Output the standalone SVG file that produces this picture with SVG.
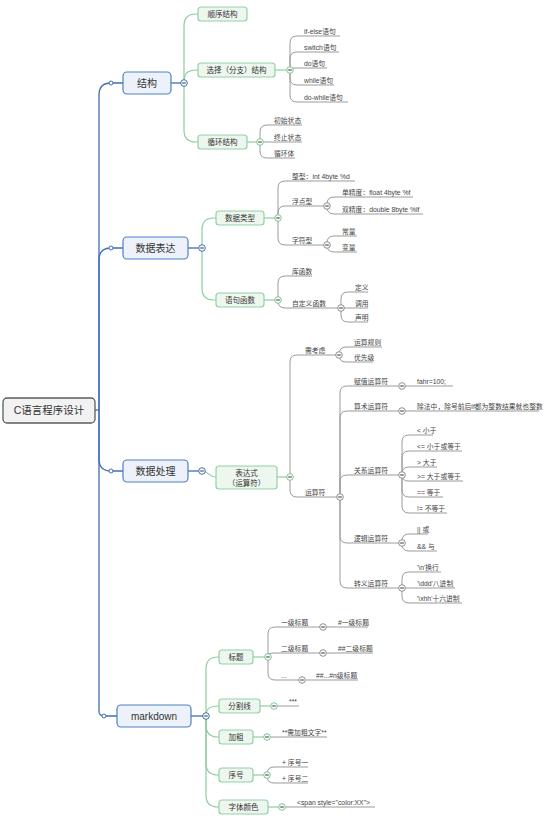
<svg xmlns="http://www.w3.org/2000/svg" width="560" height="822" viewBox="0 0 560 822">
<style>
.lb{fill:none;stroke:#3f6fb4;stroke-width:1.3}
.lg{fill:none;stroke:#8dce9e;stroke-width:1.2}
.ly{fill:none;stroke:#9b9b9b;stroke-width:1}
.bb{fill:#edf2fa;stroke:#4f80c0;stroke-width:1.2}
.bg{fill:#edf6ef;stroke:#93d1a5;stroke-width:1.2}
.rt{fill:#f2f2f2;stroke:#5c5c5c;stroke-width:1.3}
text{font-family:"Liberation Sans","Noto Sans CJK SC",sans-serif;fill:#333}
.t0{font-size:10.5px;text-anchor:middle}
.t1{font-size:10px;text-anchor:middle}
.t2{font-size:7.5px;text-anchor:middle}
.t3{font-size:6.8px;fill:#444}
</style>
<defs>
<g id="cb"><circle r="3.3" fill="#fff" stroke="#3f6fb4" stroke-width="1"/><path d="M-1.8 0H1.8" stroke="#333" stroke-width="1"/></g>
<g id="cg"><circle r="3.3" fill="#fff" stroke="#7cc490" stroke-width="1"/><path d="M-1.8 0H1.8" stroke="#333" stroke-width="1"/></g>
<g id="cy"><circle r="3.3" fill="#fff" stroke="#8f8f8f" stroke-width="1"/><path d="M-1.8 0H1.8" stroke="#333" stroke-width="1"/></g>
<circle id="co" r="2" fill="#fff" stroke="#3f6fb4" stroke-width="1"/>
</defs>
<rect width="560" height="822" fill="#fff"/>

<g id="connectors">
<g class="lb">
<path d="M95 410H99"/>
<path d="M99 410V95Q99 83 111 83H123"/>
<path d="M99 410V260Q99 248 111 248H123"/>
<path d="M99 410V459Q99 471 111 471H123"/>
<path d="M99 410V711Q99 716 104 716H117"/>
<path d="M171 83H184"/>
<path d="M188 248H202"/>
<path d="M188 471H202"/>
<path d="M191 716H206"/>
</g>
<g class="lg">
<path d="M184 83V26Q184 14 196 14H198"/>
<path d="M184 83C184 74 186 70 198 70"/>
<path d="M184 83V130Q184 142 196 142H198"/>
<path d="M275 70H290"/>
<path d="M247 142H260"/>
<path d="M202 248V230Q202 218 214 218H216"/>
<path d="M202 248V288Q202 300 214 300H216"/>
<path d="M264 218H278"/>
<path d="M264 300H278"/>
<path d="M202 471C209 471 208 477 216 477"/>
<path d="M277 477H290"/>
<path d="M206 716V669Q206 657 218 657H219"/>
<path d="M206 716C206 709 209 706 219 706"/>
<path d="M206 716V725Q206 737 218 737H219"/>
<path d="M206 716V763Q206 775 218 775H219"/>
<path d="M206 716V795Q206 807 218 807H219"/>
<path d="M253 657H268"/>
<path d="M260 706H274"/>
<path d="M253 737H267"/>
<path d="M253 775H267"/>
<path d="M268 807H282"/>
</g>
<g class="ly">
<path d="M290 70V43Q290 36 297 36H340"/>
<path d="M290 70V59Q290 52 297 52H339"/>
<path d="M290 70Q290 68 294 68H327"/>
<path d="M290 70V78Q290 85 297 85H334"/>
<path d="M290 70V95Q290 102 297 102H348"/>
<path d="M260 142V132Q260 125 267 125H302"/>
<path d="M260 142H302"/>
<path d="M260 142V151Q260 158 267 158H295"/>
<path d="M278 218V188Q278 181 285 181H355"/>
<path d="M278 218V213Q278 206 285 206H324"/>
<path d="M278 218V238Q278 245 285 245H324"/>
<path d="M327 206V204Q327 197 334 197H413"/>
<path d="M327 206V207Q327 214 334 214H423"/>
<path d="M327 245V243Q327 236 334 236H357"/>
<path d="M327 245Q327 252 334 252H357"/>
<path d="M278 300V283Q278 276 285 276H312"/>
<path d="M278 300V301Q278 308 285 308H338"/>
<path d="M341 308V299Q341 292 348 292H368"/>
<path d="M341 308H368"/>
<path d="M341 308V315Q341 322 348 322H368"/>
<path d="M290 477V362Q290 355 297 355H336"/>
<path d="M290 477V490Q290 497 297 497H337"/>
<path d="M339 355Q339 347 346 347H382"/>
<path d="M339 355Q339 362 346 362H373"/>
<path d="M340 497V393Q340 386 347 386H399"/>
<path d="M340 497V418Q340 411 347 411H399"/>
<path d="M340 497V482Q340 475 347 475H399"/>
<path d="M340 497V536Q340 543 347 543H399"/>
<path d="M340 497V581Q340 588 347 588H399"/>
<path d="M402 386H453"/>
<path d="M402 411H539"/>
<path d="M402 475V442Q402 435 409 435H433"/>
<path d="M402 475V458Q402 451 409 451H462"/>
<path d="M402 475V474Q402 467 409 467H437"/>
<path d="M402 475Q402 481 408 481H463"/>
<path d="M402 475V490Q402 497 409 497H443"/>
<path d="M402 475V506Q402 513 409 513H447"/>
<path d="M402 543V541Q402 534 409 534H428"/>
<path d="M402 543V544Q402 551 409 551H437"/>
<path d="M402 588V579Q402 572 409 572H441"/>
<path d="M402 588H455"/>
<path d="M402 588V596Q402 603 409 603H462"/>
<path d="M268 657V634Q268 627 275 627H320"/>
<path d="M268 657Q268 653 272 653H320"/>
<path d="M268 657V673Q268 680 275 680H299"/>
<path d="M323 627H368"/>
<path d="M323 653H373"/>
<path d="M302 680H358"/>
<path d="M274 706H299"/>
<path d="M267 737H327"/>
<path d="M267 775V774Q267 767 274 767H308"/>
<path d="M267 775V776Q267 783 274 783H308"/>
<path d="M282 807H375"/>
</g>
<use href="#co" x="111" y="83"/>
<use href="#co" x="111" y="248"/>
<use href="#co" x="111" y="471"/>
<use href="#co" x="104" y="716"/>
<use href="#cb" x="184" y="83"/>
<use href="#cb" x="202" y="248"/>
<use href="#cb" x="202" y="471"/>
<use href="#cb" x="206" y="716"/>
<use href="#cg" x="290" y="70"/>
<use href="#cg" x="260" y="142"/>
<use href="#cg" x="278" y="218"/>
<use href="#cg" x="278" y="300"/>
<use href="#cg" x="290" y="477"/>
<use href="#cg" x="268" y="657"/>
<use href="#cg" x="274" y="706"/>
<use href="#cg" x="267" y="737"/>
<use href="#cg" x="267" y="775"/>
<use href="#cg" x="282" y="807"/>
<use href="#cy" x="327" y="206"/>
<use href="#cy" x="327" y="245"/>
<use href="#cy" x="341" y="308"/>
<use href="#cy" x="339" y="355"/>
<use href="#cy" x="340" y="497"/>
<use href="#cy" x="402" y="386"/>
<use href="#cy" x="402" y="411"/>
<use href="#cy" x="402" y="475"/>
<use href="#cy" x="402" y="543"/>
<use href="#cy" x="402" y="588"/>
<use href="#cy" x="323" y="627"/>
<use href="#cy" x="323" y="653"/>
<use href="#cy" x="302" y="680"/>
</g>

<g id="n-root"><rect class="rt" x="3" y="398" width="92" height="25" rx="4"/><text class="t0" x="49" y="414">C语言程序设计</text></g>

<g id="n-jiegou"><rect class="bb" x="123" y="72" width="48" height="22" rx="4"/><text class="t1" x="147" y="86.5">结构</text></g>
<g id="n-shujubiaoda"><rect class="bb" x="123" y="237" width="65" height="22" rx="4"/><text class="t1" x="155.5" y="251.5">数据表达</text></g>
<g id="n-shujuchuli"><rect class="bb" x="123" y="460" width="65" height="22" rx="4"/><text class="t1" x="155.5" y="474.5">数据处理</text></g>
<g id="n-markdown"><rect class="bb" x="117" y="705" width="74" height="22" rx="4"/><text class="t1" x="154" y="719.5">markdown</text></g>

<g id="n-shunxu"><rect class="bg" x="198" y="7" width="49" height="14" rx="3"/><text class="t2" x="222.5" y="16.7">顺序结构</text></g>
<g id="n-xuanze"><rect class="bg" x="198" y="63" width="77" height="14" rx="3"/><text class="t2" x="236.5" y="72.7">选择（分支）结构</text></g>
<g id="n-xunhuan"><rect class="bg" x="198" y="135" width="49" height="14" rx="3"/><text class="t2" x="222.5" y="144.7">循环结构</text></g>
<g id="n-shujuleixing"><rect class="bg" x="216" y="211" width="48" height="14" rx="3"/><text class="t2" x="240" y="220.7">数据类型</text></g>
<g id="n-yujuhanshu"><rect class="bg" x="216" y="293" width="48" height="14" rx="3"/><text class="t2" x="240" y="302.7">语句函数</text></g>
<g id="n-biaodashi"><rect class="bg" x="216" y="466" width="61" height="23" rx="3"/><text class="t2" x="246.5" y="475.5">表达式</text><text class="t2" x="246.5" y="485.5">（运算符）</text></g>
<g id="n-biaoti"><rect class="bg" x="219" y="650" width="34" height="14" rx="3"/><text class="t2" x="236" y="659.7">标题</text></g>
<g id="n-fengexian"><rect class="bg" x="219" y="699" width="41" height="14" rx="3"/><text class="t2" x="239.5" y="708.7">分割线</text></g>
<g id="n-jiacu"><rect class="bg" x="219" y="730" width="34" height="14" rx="3"/><text class="t2" x="236" y="739.7">加粗</text></g>
<g id="n-xuhao"><rect class="bg" x="219" y="768" width="34" height="14" rx="3"/><text class="t2" x="236" y="777.7">序号</text></g>
<g id="n-zitiyanse"><rect class="bg" x="219" y="800" width="49" height="14" rx="3"/><text class="t2" x="243.5" y="809.7">字体颜色</text></g>

<g id="leaves">
<g id="n-ifelse"><text class="t3" x="304" y="33.5">if-else语句</text></g>
<g id="n-switch"><text class="t3" x="304" y="49.5">switch语句</text></g>
<g id="n-do"><text class="t3" x="304" y="65.5">do语句</text></g>
<g id="n-while"><text class="t3" x="304" y="82.5">while语句</text></g>
<g id="n-dowhile"><text class="t3" x="304" y="99.5">do-while语句</text></g>
<g id="n-chushi"><text class="t3" x="274" y="122.5">初始状态</text></g>
<g id="n-zhongzhi"><text class="t3" x="274" y="139.5">终止状态</text></g>
<g id="n-xunhuanti"><text class="t3" x="274" y="155.5">循环体</text></g>
<g id="n-zhengxing"><text class="t3" x="292" y="178.5">整型：int 4byte %d</text></g>
<g id="n-fudian"><text class="t3" x="292" y="203.5">浮点型</text></g>
<g id="n-danjingdu"><text class="t3" x="342" y="194.5">单精度：float 4byte %f</text></g>
<g id="n-shuangjingdu"><text class="t3" x="342" y="211.5">双精度：double 8byte %lf</text></g>
<g id="n-zifu"><text class="t3" x="292" y="242.5">字符型</text></g>
<g id="n-changliang"><text class="t3" x="342" y="233.5">常量</text></g>
<g id="n-bianliang"><text class="t3" x="342" y="249.5">变量</text></g>
<g id="n-kuhanshu"><text class="t3" x="292" y="273.5">库函数</text></g>
<g id="n-zidingyi"><text class="t3" x="292" y="305.5">自定义函数</text></g>
<g id="n-dingyi"><text class="t3" x="355" y="289.5">定义</text></g>
<g id="n-diaoyong"><text class="t3" x="355" y="305.5">调用</text></g>
<g id="n-shengming"><text class="t3" x="355" y="319.5">声明</text></g>
<g id="n-xukaolv"><text class="t3" x="305" y="352.5">需考虑</text></g>
<g id="n-yunsuanguize"><text class="t3" x="354" y="344.5">运算规则</text></g>
<g id="n-youxianji"><text class="t3" x="354" y="359.5">优先级</text></g>
<g id="n-yunsuanfu"><text class="t3" x="305" y="494.5">运算符</text></g>
<g id="n-fuzhi"><text class="t3" x="354" y="383.5">赋值运算符</text></g>
<g id="n-fahr"><text class="t3" x="417" y="383.5">fahr=100;</text></g>
<g id="n-suanshu"><text class="t3" x="354" y="408.5">算术运算符</text></g>
<g id="n-chufa"><text class="t3" x="417" y="408.5">除法中，除号前后if都为整数结果就也整数</text></g>
<g id="n-guanxi"><text class="t3" x="354" y="472.5">关系运算符</text></g>
<g id="n-lt"><text class="t3" x="417" y="432.5">&lt; 小于</text></g>
<g id="n-le"><text class="t3" x="417" y="448.5">&lt;= 小于或等于</text></g>
<g id="n-gt"><text class="t3" x="417" y="464.5">&gt; 大于</text></g>
<g id="n-ge"><text class="t3" x="417" y="478.5">&gt;= 大于或等于</text></g>
<g id="n-eq"><text class="t3" x="417" y="494.5">== 等于</text></g>
<g id="n-ne"><text class="t3" x="417" y="510.5">!= 不等于</text></g>
<g id="n-luoji"><text class="t3" x="354" y="540.5">逻辑运算符</text></g>
<g id="n-or"><text class="t3" x="417" y="531.5">|| 或</text></g>
<g id="n-and"><text class="t3" x="417" y="548.5">&amp;&amp; 与</text></g>
<g id="n-zhuanyi"><text class="t3" x="354" y="585.5">转义运算符</text></g>
<g id="n-hh"><text class="t3" x="417" y="569.5">'\n'换行</text></g>
<g id="n-ddd"><text class="t3" x="417" y="585.5">'\ddd'八进制</text></g>
<g id="n-xhh"><text class="t3" x="417" y="600.5">'\xhh'十六进制</text></g>
<g id="n-yiji"><text class="t3" x="281" y="624.5">一级标题</text></g>
<g id="n-yiji2"><text class="t3" x="338" y="624.5">#一级标题</text></g>
<g id="n-erji"><text class="t3" x="281" y="650.5">二级标题</text></g>
<g id="n-erji2"><text class="t3" x="338" y="650.5">##二级标题</text></g>
<g id="n-dots"><text class="t3" x="281" y="677.5">...</text></g>
<g id="n-nji"><text class="t3" x="316" y="677.5">##...#n级标题</text></g>
<g id="n-stars"><text class="t3" x="289" y="704">***</text></g>
<g id="n-jiacu2"><text class="t3" x="282" y="734.5">**需加粗文字**</text></g>
<g id="n-xuhao1"><text class="t3" x="282" y="764.5">+ 序号一</text></g>
<g id="n-xuhao2"><text class="t3" x="282" y="780.5">+ 序号二</text></g>
<g id="n-span"><text class="t3" x="297" y="804.5">&lt;span style="color:XX"&gt;</text></g>
</g>
</svg>
